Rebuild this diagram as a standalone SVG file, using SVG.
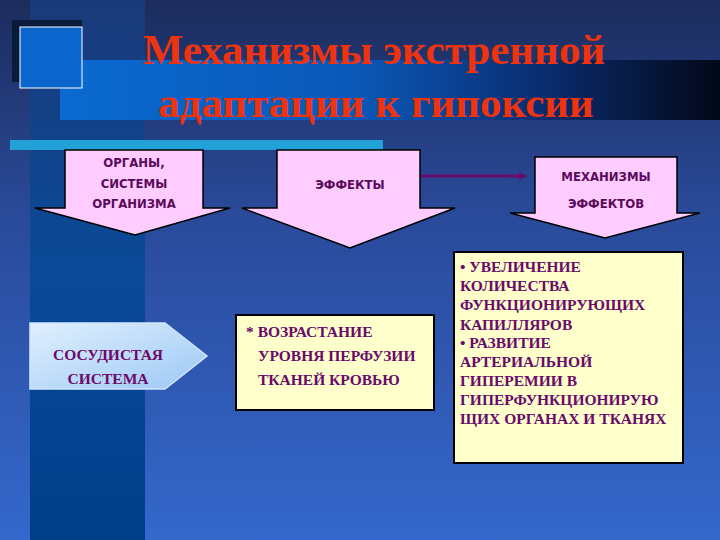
<svg xmlns="http://www.w3.org/2000/svg" width="720" height="540" viewBox="0 0 720 540">
<defs>
<linearGradient id="bg" x1="0" y1="0" x2="0" y2="1"><stop offset="0" stop-color="#1c2c5c"/><stop offset="0.4" stop-color="#2a4a9a"/><stop offset="1" stop-color="#3468cc"/></linearGradient>
<linearGradient id="col" x1="0" y1="0" x2="0" y2="1"><stop offset="0" stop-color="#1a3a7a"/><stop offset="0.5" stop-color="#0a4a98"/><stop offset="1" stop-color="#003e8a"/></linearGradient>
<linearGradient id="band" x1="0" y1="0" x2="1" y2="0"><stop offset="0" stop-color="#0a6ad0"/><stop offset="0.45" stop-color="#0a58b8"/><stop offset="0.75" stop-color="#0a2a6a"/><stop offset="1" stop-color="#020818"/></linearGradient>
<linearGradient id="pent" x1="0" y1="0" x2="1" y2="1"><stop offset="0" stop-color="#e0f0ff"/><stop offset="1" stop-color="#9cc8f4"/></linearGradient>
<marker id="ah" markerWidth="8" markerHeight="8" refX="7" refY="4" orient="auto" markerUnits="userSpaceOnUse"><path d="M0,0 L8,4 L0,8 z" fill="#6a0a6a"/></marker>
<style>
.call{fill:#ffccff;stroke:#000;stroke-width:1.5}
.box{fill:#ffffcc;stroke:#000;stroke-width:2}
.sans{font-family:"Liberation Sans Narrow","DejaVu Sans Condensed","Liberation Sans",sans-serif;font-weight:bold;font-size:13px;fill:#5a0a5a;text-anchor:middle}
.ser{font-family:"Liberation Serif",serif;font-weight:bold;font-size:15.5px;fill:#6a0a6a}
.ttl{font-family:"Liberation Serif",serif;font-weight:bold;font-size:43px;fill:#ee3311;text-anchor:middle}
</style>
</defs>
<rect width="720" height="540" fill="url(#bg)"/>
<rect x="30" y="0" width="115" height="540" fill="url(#col)"/>
<rect x="60" y="60" width="660" height="60" fill="url(#band)"/>
<rect x="12" y="20" width="70" height="62" fill="#0a1a3a"/>
<rect x="20" y="27" width="62" height="61" fill="#0a66cc" stroke="#ffffff" stroke-width="1"/>
<rect x="10" y="140" width="373" height="10" fill="#22a0d8"/>
<text class="ttl" x="374" y="64">Механизмы экстренной</text>
<text class="ttl" x="376" y="117">адаптации к гипоксии</text>
<g id="connectors"><line x1="420" y1="176" x2="526" y2="176" stroke="#6a0a6a" stroke-width="3" marker-end="url(#ah)"/></g>
<g id="organs"><path class="call" d="M65,150 H203 V208 H230 L135,235 L35,208 H65 Z"/>
<text class="sans" x="134" y="167">ОРГАНЫ,</text><text class="sans" x="134" y="188">СИСТЕМЫ</text><text class="sans" x="134" y="208">ОРГАНИЗМА</text></g>
<g id="effects"><path class="call" d="M277,150 H420 V208 H455 L350,248 L242,208 H277 Z"/>
<text class="sans" x="350" y="189">ЭФФЕКТЫ</text></g>
<g id="mech"><path class="call" d="M535,157 H677 V213 H700 L605,238 L510,213 H535 Z"/>
<text class="sans" x="606" y="181">МЕХАНИЗМЫ</text><text class="sans" x="606" y="208">ЭФФЕКТОВ</text></g>
<g id="vascular"><path d="M30,323 H165 L207,356 L165,389 H30 Z" fill="url(#pent)" stroke="#cfe6ff" stroke-width="1.5"/>
<text class="ser" x="108" y="360" text-anchor="middle">СОСУДИСТАЯ</text><text class="ser" x="108" y="384" text-anchor="middle">СИСТЕМА</text></g>
<g id="perf"><rect class="box" x="236" y="315" width="198" height="95"/>
<text class="ser" x="246" y="337">*  ВОЗРАСТАНИЕ</text><text class="ser" x="258" y="361">УРОВНЯ ПЕРФУЗИИ</text><text class="ser" x="258" y="385">ТКАНЕЙ  КРОВЬЮ</text></g>
<g id="mechs"><rect class="box" x="454" y="252" width="229" height="211"/>
<text class="ser" x="460" y="272">• УВЕЛИЧЕНИЕ</text><text class="ser" x="460" y="291">КОЛИЧЕСТВА</text><text class="ser" x="460" y="310">ФУНКЦИОНИРУЮЩИХ</text><text class="ser" x="460" y="330">КАПИЛЛЯРОВ</text><text class="ser" x="460" y="348">• РАЗВИТИЕ</text><text class="ser" x="460" y="367">АРТЕРИАЛЬНОЙ</text><text class="ser" x="460" y="386">ГИПЕРЕМИИ  В</text><text class="ser" x="460" y="405">ГИПЕРФУНКЦИОНИРУЮ</text><text class="ser" x="460" y="424">ЩИХ ОРГАНАХ И ТКАНЯХ</text></g>
</svg>
